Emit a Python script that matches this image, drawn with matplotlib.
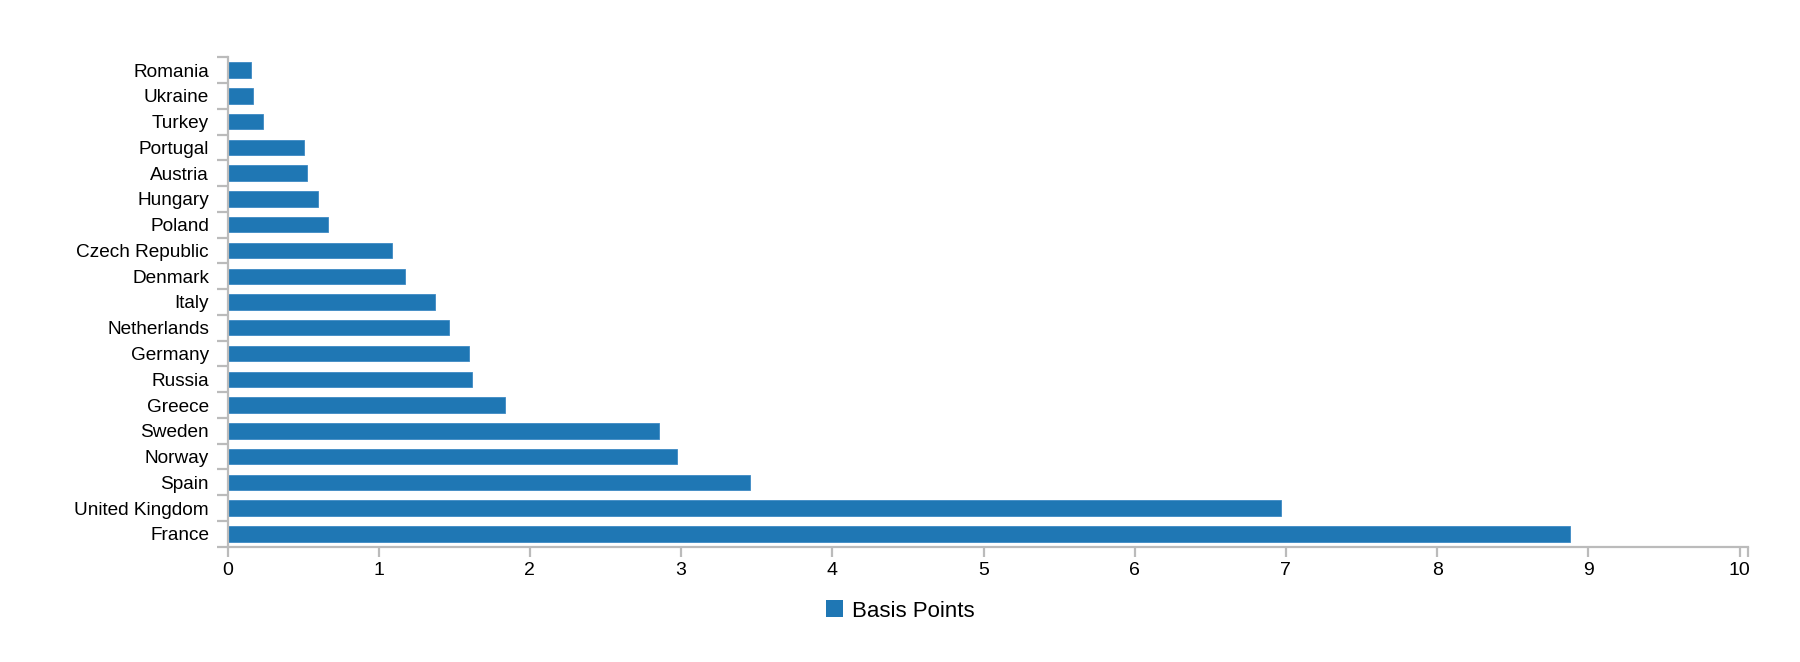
import matplotlib
matplotlib.use("Agg")
import matplotlib.pyplot as plt
from matplotlib.patches import Patch
import numpy as np

countries = ["Romania", "Ukraine", "Turkey", "Portugal", "Austria", "Hungary",
             "Poland", "Czech Republic", "Denmark", "Italy", "Netherlands",
             "Germany", "Russia", "Greece", "Sweden", "Norway", "Spain",
             "United Kingdom", "France"]
basis_points = [0.157, 0.167, 0.237, 0.506, 0.526, 0.597, 0.667, 1.086, 1.176,
                1.370, 1.467, 1.599, 1.616, 1.837, 2.856, 2.973, 3.456, 6.966, 8.879]
x_ticks = [0, 1, 2, 3, 4, 5, 6, 7, 8, 9, 10]

plt.rcParams["font.family"] = ["Liberation Sans", "DejaVu Sans"]
bar_color = "#1f77b4"
axis_color = "#bbbbbb"

fig = plt.figure(figsize=(18, 6.62), dpi=100)
ax = fig.add_axes([227.5 / 1800, 1 - 546.7 / 662, (1748 - 227.5) / 1800, (546.7 - 57.3) / 662])

y = np.arange(len(countries))
ax.barh(y, basis_points, height=0.6, color=bar_color, edgecolor="#3d8ac4",
        linewidth=0.6, zorder=1)

ax.set_xlim(0, (1748 - 227.5) / 151.2)
ax.set_ylim(len(countries) - 0.5, -0.5)

# spines
for s in ["top", "right"]:
    ax.spines[s].set_visible(False)
for s in ["left", "bottom"]:
    ax.spines[s].set_color(axis_color)
    ax.spines[s].set_linewidth(1.6)
    ax.spines[s].set_zorder(3)

# y axis: labels centered, ticks at band edges
ax.set_yticks(y)
ax.set_yticklabels(countries)
ax.set_yticks(np.arange(len(countries) + 1) - 0.5, minor=True)
ax.tick_params(axis="y", which="major", length=0, pad=13.3, labelsize=13.7, labelcolor="black")
ax.tick_params(axis="y", which="minor", length=8, width=1.6, color=axis_color, direction="out")

# x axis
ax.set_xticks(x_ticks)
ax.set_xticklabels([str(t) for t in x_ticks])
ax.set_xticks([ax.get_xlim()[1]], minor=True)
ax.tick_params(axis="x", which="major", length=7.2, width=1.6, color=axis_color,
               pad=3.5, labelsize=14, labelcolor="black")
ax.tick_params(axis="x", which="minor", length=7.2, width=1.6, color=axis_color)

handle = Patch(facecolor=bar_color, edgecolor="none", label="Basis Points")
fig.legend(handles=[handle], loc="center", bbox_to_anchor=(0.5, 1 - 611 / 662),
           frameon=False, fontsize=16, handlelength=0.78, handleheight=0.78,
           handletextpad=0.4, borderpad=0)

fig.savefig("out.png", dpi=100)
